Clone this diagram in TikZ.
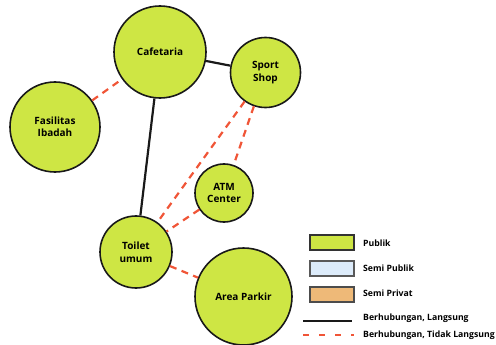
\documentclass[tikz,border=0pt]{standalone}
\usepackage{fontspec}
\setmainfont{Open Sans}
\definecolor{pub}{RGB}{206,230,68}
\definecolor{spub}{RGB}{220,235,250}
\definecolor{spriv}{RGB}{238,185,120}
\definecolor{dred}{RGB}{240,85,55}
\tikzset{
  room/.style={circle,draw=black!90,line width=1.6pt,fill=pub,inner sep=0pt,align=center,font=\bfseries\fontsize{10}{12.5}\selectfont},
  direct/.style={black!90,line width=2.2pt},
  indirect/.style={dred,line width=2.2pt,dash pattern=on 7pt off 5.5pt},
  legbox/.style={draw,line width=1.4pt,minimum width=44pt,minimum height=15pt,inner sep=0pt},
  legtext/.style={anchor=west,font=\bfseries\fontsize{8.7}{10}\selectfont,inner sep=0pt}
}
\begin{document}
\begin{tikzpicture}[x=1pt,y=-1pt]
\useasboundingbox (0,0) rectangle (496,345);
\node[room,minimum size=92pt] (caf) at (160,52) {Cafetaria};
\node[room,minimum size=70pt] (sport) at (265.5,72.5) {Sport\\Shop};
\node[room,minimum size=90pt] (fas) at (55,127) {Fasilitas\\Ibadah};
\node[room,minimum size=58pt] (atm) at (224,193) {ATM\\Center};
\node[room,minimum size=72pt] (toi) at (136,252) {Toilet\\umum};
\node[room,minimum size=97pt] (park) at (243.5,296.5) {Area Parkir};
\draw[direct] (caf) -- (sport);
\draw[direct] (caf) -- (toi);
\draw[indirect] (fas) -- (caf);
\draw[indirect] (sport) -- (toi);
\draw[indirect] (sport) -- (atm);
\draw[indirect] (atm) -- (toi);
\draw[indirect] (toi) -- (park);
% legend
\node[legbox,draw=black!80,fill=pub] (l1) at (332,242.5) {};
\node[legbox,draw=gray!70!black,fill=spub] (l2) at (332,268.5) {};
\node[legbox,draw=black!70,fill=spriv] (l3) at (332,294.5) {};
\node[legtext] (t1) at (363,243.5) {Publik};
\node[legtext] (t2) at (363,268.5) {Semi Publik};
\node[legtext] (t3) at (363,293) {Semi Privat};
\coordinate (a1) at (303,321);
\coordinate (a2) at (352,321);
\coordinate (b1) at (303,335);
\coordinate (b2) at (354,335);
\draw[direct] (a1) -- (a2);
\draw[indirect,line width=1.8pt,dash pattern=on 6pt off 10pt] (b1) -- (b2);
\node[legtext] (t4) at (363,318) {Berhubungan, Langsung};
\node[legtext] (t5) at (363,335) {Berhubungan, Tidak Langsung};
\end{tikzpicture}
\end{document}
